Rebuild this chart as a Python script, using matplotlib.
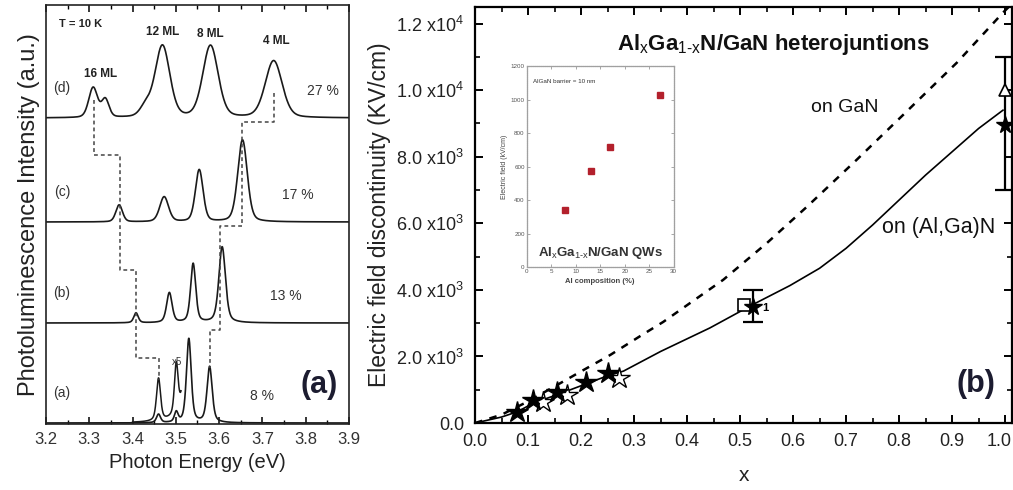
import numpy as np
import matplotlib.pyplot as plt
import matplotlib.transforms as mtransforms
from matplotlib.ticker import MultipleLocator, FixedLocator

plt.rcParams['font.family'] = ['Liberation Sans', 'DejaVu Sans']
plt.rcParams['mathtext.fontset'] = 'custom'
plt.rcParams['mathtext.rm'] = 'Liberation Sans'
plt.rcParams['mathtext.it'] = 'Liberation Sans:italic'
plt.rcParams['mathtext.bf'] = 'Liberation Sans:bold'

# ---- panel (a): PL peaks (energy eV, height, FWHM eV)
samples = ['(a)', '(b)', '(c)', '(d)']
al_content = ['8 %', '13 %', '17 %', '27 %']
al_label_E = [3.70, 3.754, 3.782, 3.84]
offsets = [1, 101, 202, 306]
peak_E = [[3.460, 3.501, 3.530, 3.578],
          [3.408, 3.485, 3.540, 3.607],
          [3.369, 3.473, 3.554, 3.654],
          [3.309, 3.337, 3.430, 3.469, 3.580, 3.726]]
peak_h = [[8.5, 10, 84, 56],
          [10, 30, 59, 76],
          [17, 25, 52, 82],
          [30, 18, 10, 72, 72, 57]]
peak_w = [[0.011, 0.010, 0.013, 0.014],
          [0.012, 0.015, 0.014, 0.018],
          [0.018, 0.024, 0.021, 0.026],
          [0.024, 0.020, 0.030, 0.040, 0.042, 0.046]]
peak_eta = [0.5, 0.45, 0.3, 0.25]
x5_range = (3.40, 3.512)

# dashed guides linking the ML peaks between spectra
guide_16 = ([3.31, 3.31, 3.37, 3.37, 3.408, 3.408, 3.46, 3.46],
            [324, 269, 269, 154, 154, 66, 66, 44])
guide_4 = ([3.726, 3.726, 3.654, 3.654, 3.603, 3.603, 3.578, 3.578],
           [331, 302, 302, 198, 198, 94, 94, 56])
ml_labels = ['16 ML', '12 ML', '8 ML', '4 ML']
ml_E = [3.325, 3.469, 3.58, 3.733]
ml_y = [350, 392, 390, 383]

# ---- panel (b): field discontinuity vs x
x_gan = [0, 0.05, 0.10, 0.15, 0.198, 0.255, 0.315, 0.355, 0.406, 0.468, 0.551, 0.626, 0.72, 0.808, 0.909, 0.996, 1.013]
f_gan = [0, 250, 650, 1100, 1534, 2045, 2647, 3038, 3609, 4301, 5414, 6497, 7910, 9264, 10828, 12330, 12600]
x_algan = [0, 0.05, 0.08, 0.11, 0.16, 0.21, 0.25, 0.28, 0.35, 0.443, 0.523, 0.594, 0.65, 0.70, 0.75, 0.80, 0.85, 0.90, 0.95, 0.996]
f_algan = [0, 180, 340, 600, 880, 1180, 1420, 1560, 2150, 2857, 3550, 4130, 4650, 5250, 5950, 6700, 7450, 8150, 8850, 9400]
x_star = [0.08, 0.11, 0.155, 0.21, 0.25]
f_star = [330, 690, 930, 1230, 1500]
x_star_open = [0.128, 0.173, 0.272]
f_star_open = [630, 840, 1360]
x_err = [0.525, 1.0]
f_err = [3520, 9010]
err = [480, 2000]
x_star_big = [0.525, 1.0]
f_star_big = [3500, 8960]
x_sq, f_sq = [0.507], [3550]
x_tri, f_tri = [1.0], [10015]

# inset
inset_al = [7.8, 13.1, 17.1, 27.3]
inset_field = [340, 573, 716, 1027]


def pv(E, centers, heights, widths, eta):
    y = np.zeros_like(E)
    for c, h, w in zip(centers, heights, widths):
        hw = w / 2
        lor = 1 / (1 + ((E - c) / hw) ** 2)
        gau = np.exp(-np.log(2) * ((E - c) / hw) ** 2)
        y += h * (eta * lor + (1 - eta) * gau)
    return y


fig = plt.figure(figsize=(10.13, 4.9), dpi=100)
ink = '#1a1a1a'

# ================= (a)
ax = fig.add_axes([0.0454, 0.1347, 0.2991, 0.8551])
E = np.linspace(3.2, 3.9, 1400)
for i in range(4):
    y = offsets[i] + pv(E, peak_E[i], peak_h[i], peak_w[i], peak_eta[i])
    ax.plot(E, y, color=ink, lw=1.2)
    ax.text(3.237, offsets[i] + 30, samples[i], fontsize=10, color='#333333', ha='center', va='center')
    ax.text(al_label_E[i], offsets[i] + 27, al_content[i],
            fontsize=10, color='#333333', ha='center', va='center')
# x5 magnified part of spectrum (a)
Ex = np.linspace(x5_range[0], x5_range[1], 300)
ax.plot(Ex, offsets[0] + 5 * pv(Ex, peak_E[0], peak_h[0], peak_w[0], peak_eta[0]), color=ink, lw=1.1)
ax.text(3.503, 62, 'x5', fontsize=7, color='#333333', ha='center', va='center')

ax.plot(*guide_16, color='#444444', lw=1.1, ls=(0, (2.5, 2)))
ax.plot(*guide_4, color='#444444', lw=1.1, ls=(0, (2.5, 2)))
for lab, e, yy in zip(ml_labels, ml_E, ml_y):
    ax.text(e, yy, lab, fontsize=8.5, fontweight='bold', color='#222222', ha='center', va='center')
ax.text(3.279, 400, 'T = 10 K', fontsize=8, fontweight='bold', color='#222222', ha='center', va='center')
ax.text(3.83, 39, '(a)', fontsize=22, fontweight='bold', color='#1c1c30', ha='center', va='center')

ax.set_xlim(3.2, 3.9)
ax.set_ylim(0, 419)
ax.xaxis.set_major_locator(MultipleLocator(0.1))
ax.xaxis.set_minor_locator(MultipleLocator(0.05))
ax.set_yticks([])
ax.tick_params(axis='x', which='both', direction='in', top=True, labelsize=12, labelcolor='#333333', pad=6)
ax.tick_params(axis='x', which='major', length=5, width=1.1)
ax.tick_params(axis='x', which='minor', length=3, width=1.0)
for s in ax.spines.values():
    s.set_linewidth(1.2)
    s.set_color('#222222')
ax.set_xlabel('Photon Energy (eV)', fontsize=14.5, color='#222222', labelpad=4)
ax.set_ylabel('Photoluminescence Intensity (a.u.)', fontsize=17, color='#222222', labelpad=4)

# ================= (b)
bx = fig.add_axes([0.469, 0.1367, 0.530, 0.849])
bx.plot(x_gan, f_gan, color='black', lw=1.8, ls=(0, (3, 3)))
bx.plot(x_algan, f_algan, color='black', lw=1.2)
bx.errorbar(x_err, f_err, yerr=err, fmt='none', ecolor='black', elinewidth=1.6, capsize=7, capthick=1.6)
bx.plot(x_sq, f_sq, ls='none', marker='s', ms=8, mfc='white', mec='black', mew=1.2)
bx.plot(x_tri, f_tri, ls='none', marker='^', ms=9, mfc='white', mec='black', mew=1.2)
bx.plot(x_star_open, f_star_open, ls='none', marker='*', ms=16, mfc='white', mec='black', mew=1.0)
bx.plot(x_star, f_star, ls='none', marker='*', ms=16, color='black')
bx.plot(x_star_big, f_star_big, ls='none', marker='*', ms=13, color='black')
bx.text(0.548, 3450, '1', fontsize=8, fontweight='bold', ha='center', va='center')

bx.text(0.562, 11370, r'Al$_\mathrm{x}$Ga$_\mathrm{1\text{-}x}$N/GaN heterojuntions', fontsize=16,
        fontweight='bold', color='#111111', ha='center', va='center')
bx.text(0.698, 9475, 'on GaN', fontsize=14, color='#111111', ha='center', va='center')
bx.text(0.768, 5866, 'on (Al,Ga)N', fontsize=15.5, color='#111111', ha='left', va='center')
bx.text(0.945, 1170, '(b)', fontsize=22, fontweight='bold', color='#1c1c30', ha='center', va='center')

bx.set_xlim(0, 1.013)
bx.set_ylim(0, 12500)
bx.xaxis.set_major_locator(MultipleLocator(0.1))
bx.xaxis.set_minor_locator(MultipleLocator(0.05))
yt = [0, 2000, 4000, 6000, 8000, 10000, 12000]
ylabels = ['0.0', r'2.0 x10$^3$', r'4.0 x10$^3$', r'6.0 x10$^3$', r'8.0 x10$^3$',
           r'1.0 x10$^4$', r'1.2 x10$^4$']
bx.yaxis.set_major_locator(FixedLocator(yt))
bx.set_yticklabels(ylabels)
bx.yaxis.set_minor_locator(MultipleLocator(1000))
bx.tick_params(which='both', direction='in', top=True, right=True, labelsize=13, labelcolor='#222222')
bx.tick_params(axis='y', pad=8)
bx.tick_params(axis='x', pad=7)
bx.tick_params(which='major', length=6, width=1.4)
bx.tick_params(which='minor', length=3.5, width=1.2)
bx.set_xticks(np.arange(0, 1.01, 0.1))
bx.set_xticklabels(['%.1f' % v for v in np.arange(0, 1.01, 0.1)])
# last label sits at the figure edge; nudge it left a little
last = bx.get_xticklabels()[-1]
last.set_transform(last.get_transform() + mtransforms.ScaledTranslation(-6 / 100, 0, fig.dpi_scale_trans))
for s in bx.spines.values():
    s.set_linewidth(1.6)
bx.set_xlabel('x', fontsize=15, color='#222222', labelpad=12)
bx.set_ylabel('Electric field discontinuity (KV/cm)', fontsize=16.5, color='#222222', labelpad=4)

# ================= inset
ins = fig.add_axes([0.520, 0.455, 0.145, 0.41])
ins.plot(inset_al, inset_field, ls='none', marker='s', ms=5, color='#b3202c')
ins.set_xlim(0, 30)
ins.set_ylim(0, 1200)
ins.xaxis.set_major_locator(MultipleLocator(5))
ins.yaxis.set_major_locator(MultipleLocator(200))
ins.tick_params(which='both', direction='in', top=True, right=True, labelsize=4.5, length=2,
                width=0.6, color='#999999', labelcolor='#555555', pad=1.5)
for s in ins.spines.values():
    s.set_linewidth(0.9)
    s.set_color('#a0a0a0')
    s.set_linestyle((0, (1, 0.6)))
ins.text(1.3, 1110, 'AlGaN barrier = 10 nm', fontsize=4.5, color='#333333', va='center')
ins.text(15, 85, r'Al$_\mathrm{x}$Ga$_\mathrm{1\text{-}x}$N/GaN QWs', fontsize=9.5, fontweight='bold',
         color='#333333', ha='center', va='center')
ins.set_xlabel('Al composition (%)', fontsize=5.5, fontweight='bold', color='#444444', labelpad=3)
ins.set_ylabel('Electric field (kV/cm)', fontsize=5, color='#444444', labelpad=2)

fig.savefig('out.png', dpi=100)
